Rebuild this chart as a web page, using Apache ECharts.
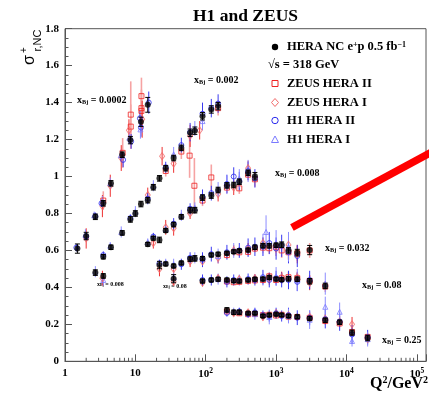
<!DOCTYPE html>
<html><head><meta charset="utf-8">
<script src="https://cdn.jsdelivr.net/npm/echarts@6/dist/echarts.min.js"></script>
<style>html,body{margin:0;padding:0;background:#fff}#c{width:429px;height:396px}</style>
</head><body><div id="c"></div>
<script>
// ---- HERA combined (black) : [Q2, sigma, err] ----
const heraA = [[1.5,0.61,0.025],[2,0.678,0.02],[2.7,0.782,0.015],[3.5,0.855,0.015],[4.5,0.963,0.015],[6.5,1.118,0.015],[8.5,1.197,0.02],[12,1.296,0.025],[15,1.388,0.04]];
const heraB = [[3.5,0.566,0.012],[4.5,0.617,0.012],[6.5,0.695,0.012],[8.5,0.768,0.015],[10,0.80,0.015],[12,0.851,0.015],[15,0.872,0.015],[18,0.942,0.015],[22,0.99,0.015],[27,1.045,0.015],[35,1.10,0.015],[45,1.155,0.015],[60,1.237,0.02],[70,1.248,0.02],[90,1.326,0.02],[120,1.363,0.02],[150,1.381,0.02]];
const heraC = [[15,0.633,0.01],[18,0.666,0.01],[22,0.657,0.015],[27,0.708,0.01],[35,0.74,0.012],[45,0.782,0.012],[60,0.818,0.015],[70,0.818,0.015],[90,0.886,0.015],[120,0.897,0.015],[150,0.927,0.015],[200,0.952,0.015],[250,0.954,0.015],[300,0.972,0.015],[400,1.02,0.015],[500,1.002,0.02]];
const heraD = [[2.7,0.48,0.015],[3.5,0.462,0.012],[22,0.521,0.02],[27,0.527,0.01],[35,0.516,0.01],[45,0.532,0.01],[60,0.553,0.012],[70,0.557,0.015],[90,0.557,0.01],[120,0.575,0.01],[150,0.58,0.01],[200,0.585,0.01],[250,0.593,0.01],[300,0.598,0.01],[400,0.602,0.01],[500,0.617,0.012],[650,0.626,0.012],[800,0.625,0.012],[1000,0.628,0.012],[1200,0.631,0.015],[1500,0.60,0.015],[2000,0.588,0.018],[3000,0.602,0.025]];
const heraE = [[35,0.447,0.022],[90,0.434,0.01],[120,0.44,0.01],[150,0.444,0.01],[200,0.44,0.01],[250,0.436,0.01],[300,0.434,0.01],[400,0.44,0.01],[500,0.444,0.01],[650,0.445,0.01],[800,0.453,0.01],[1000,0.445,0.01],[1200,0.442,0.01],[1500,0.447,0.012],[2000,0.444,0.012],[3000,0.433,0.015],[5000,0.408,0.015]];
const heraF = [[200,0.278,0.012],[250,0.265,0.012],[300,0.265,0.012],[400,0.26,0.008],[500,0.26,0.008],[650,0.245,0.008],[800,0.25,0.008],[1000,0.254,0.008],[1200,0.25,0.008],[1500,0.245,0.008],[2000,0.241,0.01],[3000,0.232,0.01],[5000,0.222,0.012],[8000,0.211,0.012],[12000,0.155,0.014],[20000,0.126,0.015]];

// ---- ZEUS HERA II (red squares) ----
const zeus2 = [[8.6,1.335,0.18],[8.6,1.27,0.12],[12.2,1.435,0.1],[12.2,1.37,0.1],[12.2,1.355,0.1],[6.6,1.128,0.08],[3.5,0.87,0.05],
 [27,1.03,0.03],[45,1.135,0.04],[59,1.113,0.12],[69,0.95,0.15],[120,0.995,0.07],[150,1.37,0.04],
 [90,0.87,0.03],[200,0.94,0.03],[300,0.936,0.03],[400,1.01,0.03],[500,0.985,0.04],
 [200,0.575,0.02],[300,0.59,0.02],[400,0.592,0.02],[500,0.61,0.02],[650,0.615,0.03],[800,0.612,0.03],[1000,0.62,0.03],[1200,0.60,0.04],[1500,0.59,0.04],[2000,0.585,0.04],[3000,0.60,0.04],
 [200,0.432,0.015],[250,0.428,0.015],[300,0.43,0.015],[400,0.435,0.015],[500,0.438,0.02],[650,0.44,0.02],[800,0.46,0.02],[1000,0.44,0.02],[1200,0.45,0.03],[1500,0.455,0.03],[2000,0.45,0.03],[3000,0.435,0.03],[5000,0.405,0.03],
 [200,0.27,0.01],[300,0.26,0.01],[400,0.255,0.01],[500,0.256,0.01],[650,0.25,0.01],[800,0.252,0.015],[1000,0.248,0.015],[1200,0.252,0.015],[1500,0.242,0.02],[2000,0.24,0.02],[3000,0.235,0.02],[5000,0.218,0.02],[8000,0.205,0.02],[12000,0.158,0.02],[20000,0.132,0.02]];
// ---- ZEUS HERA I (red diamonds) ----
const zeus1 = [[2.0,0.665,0.055],[3.4,0.84,0.06],[4.4,0.95,0.06],[6.3,1.10,0.07],[8.1,1.25,0.06],[12.5,1.31,0.1],
 [15,0.90,0.04],[24,1.11,0.05],[35,1.07,0.05],[60,1.22,0.06],[82,1.25,0.05],
 [18,0.64,0.03],[27,0.725,0.04],[35,0.72,0.04],[60,0.80,0.03],[150,0.905,0.04],[250,0.94,0.04],[400,1.045,0.04],
 [3.4,0.45,0.04],[22,0.50,0.04],[35,0.50,0.03],[60,0.54,0.03],[90,0.54,0.03],[150,0.56,0.03],[250,0.60,0.03],[400,0.61,0.03],[650,0.64,0.03],[1000,0.61,0.04],[1500,0.63,0.04],[2000,0.58,0.05],
 [35,0.43,0.02],[90,0.425,0.02],[150,0.45,0.02],[300,0.445,0.02],[500,0.45,0.02],[800,0.445,0.03],[1200,0.455,0.03],[2000,0.455,0.03],[3000,0.425,0.04],
 [250,0.26,0.015],[400,0.265,0.015],[650,0.24,0.02],[1000,0.26,0.02],[1500,0.25,0.02],[3000,0.24,0.025],[5000,0.23,0.025],[8000,0.215,0.03],[12000,0.20,0.04],[20000,0.12,0.02]];
// ---- H1 HERA II (blue circles) ----
const h1b = [[1.45,0.615,0.02],[2.0,0.675,0.02],[2.7,0.785,0.02],[3.3,0.855,0.02],[6.7,1.09,0.04],[8.7,1.19,0.04],[11.6,1.315,0.04],[12,1.265,0.05],[15.5,1.40,0.06],
 [3.5,0.575,0.02],[8.5,0.775,0.02],[15,0.88,0.03],[27,1.05,0.03],[45,1.17,0.04],[60,1.24,0.05],[90,1.34,0.06],[120,1.37,0.05],[150,1.395,0.05],
 [18,0.675,0.02],[35,0.745,0.03],[60,0.825,0.03],[90,0.89,0.04],[120,0.91,0.04],[200,0.96,0.05],[250,1.0,0.05],[300,0.975,0.05],[400,1.03,0.05],[500,0.99,0.05],
 [22,0.53,0.02],[45,0.525,0.03],[60,0.56,0.03],[90,0.55,0.04],[120,0.58,0.04],[200,0.59,0.04],[300,0.60,0.04],[400,0.615,0.05],[500,0.62,0.05],[650,0.62,0.05],[800,0.64,0.06],[1000,0.61,0.06],[1200,0.625,0.06],[1500,0.59,0.06],[2000,0.57,0.06],
 [90,0.44,0.03],[120,0.44,0.03],[200,0.43,0.03],[250,0.44,0.03],[400,0.445,0.03],[500,0.44,0.03],[650,0.455,0.04],[800,0.44,0.04],[1000,0.45,0.04],[1200,0.44,0.04],[1500,0.44,0.05],[2000,0.43,0.05],[3000,0.44,0.05],
 [200,0.262,0.02],[300,0.27,0.02],[400,0.255,0.02],[500,0.265,0.025],[650,0.25,0.025],[800,0.245,0.03],[1000,0.26,0.03],[1200,0.245,0.03],[1500,0.25,0.04],[2000,0.236,0.04],[3000,0.235,0.04],[5000,0.228,0.05],[8000,0.215,0.05],[12000,0.145,0.05],[20000,0.13,0.04]];
// ---- H1 HERA I (blue triangles) ----
const h1a = [[1.95,0.685,0.03],[2.6,0.79,0.02],[3.4,0.865,0.03],[4.4,0.965,0.03],[6.2,1.115,0.03],[8.2,1.21,0.03],[11.8,1.255,0.05],
 [4.4,0.625,0.02],[6.3,0.70,0.03],[10,0.81,0.03],[18,0.95,0.03],[35,1.12,0.04],[70,1.26,0.04],[90,1.30,0.05],
 [15,0.645,0.02],[27,0.715,0.02],[45,0.79,0.03],[70,0.83,0.03],[150,0.93,0.04],[200,0.955,0.05],[300,0.99,0.05],[400,1.03,0.06],
 [3.5,0.44,0.03],[2.7,0.485,0.03],[27,0.535,0.02],[35,0.525,0.03],[70,0.56,0.03],[150,0.57,0.04],[250,0.60,0.04],[650,0.63,0.06],[720,0.70,0.09],[1000,0.64,0.07],[1500,0.62,0.08],
 [35,0.455,0.03],[150,0.445,0.03],[300,0.44,0.03],[650,0.45,0.04],[1000,0.46,0.05],[2000,0.44,0.06],[5000,0.42,0.06],
 [250,0.27,0.02],[500,0.255,0.03],[800,0.24,0.04],[1500,0.245,0.04],[3000,0.225,0.05],[5000,0.295,0.055],[8000,0.268,0.05],[12000,0.11,0.03],[20000,0.12,0.04]];

// annotation stroke (data coords)
const redStroke = [[1680,0.724],[176000,1.139]];
// tick helpers
const yTicks = [0,0.2,0.4,0.6,0.8,1,1.2,1.4,1.6,1.8];
const decades = [1,10,100,1000,10000];
const mantissas = [2,3,4,5,6,7,8,9];
const minorQ = [];
decades.forEach(d => mantissas.forEach(m => minorQ.push(d*m)));

const SERIF = 'Liberation Serif';
const chart = echarts.init(document.getElementById('c'));

function errBars(data, color, lw, cap, z) {
  return {
    type: 'custom', data, z, silent: true, clip: false, encode: {x: 0, y: 1},
    renderItem(params, api) {
      const q = api.value(0), v = api.value(1), e = api.value(2);
      const t = api.coord([q, v + e]), b = api.coord([q, v - e]);
      const st = {stroke: color, lineWidth: lw};
      const ch = [{type: 'line', shape: {x1: t[0], y1: t[1], x2: b[0], y2: b[1]}, style: st}];
      if (cap) {
        ch.push({type: 'line', shape: {x1: t[0]-cap, y1: t[1], x2: t[0]+cap, y2: t[1]}, style: st});
        ch.push({type: 'line', shape: {x1: b[0]-cap, y1: b[1], x2: b[0]+cap, y2: b[1]}, style: st});
      }
      return {type: 'group', children: ch};
    }
  };
}
function openMarks(data, symbol, size, color, z) {
  return {type: 'scatter', data: data.map(d => [d[0], d[1]]), symbol, symbolSize: size, z, silent: true,
    itemStyle: {color: 'rgba(255,255,255,0)', borderColor: color, borderWidth: 1}};
}
const hera = [heraA, heraB, heraC, heraD, heraE, heraF];
const series = [];
series.push(errBars(zeus2, '#f6a3a3', 1.6, 0, 2));
series.push(errBars(zeus1, '#ee3030', 1, 0, 2));
series.push(errBars(h1b, '#3a3af0', 1, 0, 2));
series.push(errBars(h1a, '#8c8cff', 1, 0, 2));
series.push(openMarks(zeus2, 'rect', 5, '#ee2222', 3));
series.push(openMarks(zeus1, 'diamond', [5, 7], '#f26a6a', 3));
series.push(openMarks(h1b, 'circle', 5, '#2a2aee', 3));
series.push(openMarks(h1a, 'triangle', 5, '#7a7aff', 3));
hera.forEach(arr => {
  series.push(errBars(arr, '#000', 1, 2.5, 4));
  series.push({type: 'scatter', data: arr.map(d => [d[0], d[1]]), symbol: 'circle', symbolSize: 6, z: 5, silent: true,
    itemStyle: {color: '#000'}});
});
// minor x ticks
series.push({type: 'custom', data: minorQ.map(q => [q, 0]), z: 6, silent: true, clip: false, encode: {x: 0, y: 1},
  renderItem(params, api) {
    const p = api.coord([api.value(0), 0]);
    return {type: 'line', shape: {x1: p[0], y1: p[1], x2: p[0], y2: p[1]-3.5}, style: {stroke: '#555', lineWidth: 1}};
  }});
// red annotation stroke
series.push({type: 'line', data: redStroke, symbol: 'none', clip: false, z: 10, silent: true,
  lineStyle: {color: '#ff0000', width: 7.5, cap: 'butt'}});

const lbl = (x, y, val, fs) => ({type: 'text', x, y, silent: true, style: {
  text: 'x{b|Bj} = ' + val, fill: '#000', font: 'bold ' + fs + 'px ' + SERIF, verticalAlign: 'middle', align: 'left',
  rich: {b: {fontSize: fs * 0.62, fontWeight: 'bold', fontFamily: SERIF, verticalAlign: 'bottom', padding: [fs*0.35,0,0,0]}}}});
const legTxt = (x, y, t) => ({type: 'text', x, y, silent: true, style: {
  text: t, fill: '#000', font: 'bold 12.5px ' + SERIF, verticalAlign: 'middle', align: 'left',
  rich: {s: {fontSize: 8, fontWeight: 'bold', fontFamily: SERIF, verticalAlign: 'top', padding: [0,0,5,0]}}}});

const option = {
  animation: false,
  backgroundColor: '#fff',
  grid: {left: 65, right: 2, top: 28.7, bottom: 34.7, show: true, borderColor: '#555', borderWidth: 1},
  xAxis: {
    type: 'log', logBase: 10, min: 1, max: 135000,
    axisLine: {lineStyle: {color: '#555'}},
    axisTick: {inside: true, length: 7, lineStyle: {color: '#555'}},
    splitLine: {show: false},
    axisLabel: {
      color: '#000', fontFamily: SERIF, fontWeight: 'bold', fontSize: 11, margin: 6,
      formatter: v => {
        const e = Math.log10(v);
        if (Math.abs(e - Math.round(e)) > 1e-6) return '';
        const n = Math.round(e);
        if (n === 0) return '1';
        if (n === 1) return '10';
        return '10{s|' + n + '}';
      },
      rich: {s: {fontSize: 7.5, fontWeight: 'bold', fontFamily: SERIF, verticalAlign: 'top', padding: [0,0,6,0]}}
    }
  },
  yAxis: {
    type: 'value', min: 0, max: 1.8, interval: 0.2,
    axisLine: {show: true, lineStyle: {color: '#555'}},
    axisTick: {inside: true, length: 7, lineStyle: {color: '#555'}},
    minorTick: {show: true, splitNumber: 4, length: 3.5, lineStyle: {color: '#555'}},
    splitLine: {show: false},
    axisLabel: {color: '#000', fontFamily: SERIF, fontWeight: 'bold', fontSize: 11, margin: 6,
      formatter: v => (v === 0 ? '0' : v === 1 ? '1' : v.toFixed(1))}
  },
  series,
  graphic: [
    {type: 'text', x: 193, y: 16, silent: true, style: {text: 'H1 and ZEUS', fill: '#000', font: 'bold 17.5px ' + SERIF, verticalAlign: 'middle'}},
    // y axis title
    {type: 'text', x: 30, y: 60, rotation: Math.PI/2, silent: true, style: {text: 'σ', fill: '#000', font: '16px Liberation Sans', align: 'center', verticalAlign: 'middle'}},
    {type: 'text', x: 24.5, y: 50, rotation: Math.PI/2, silent: true, style: {text: '+', fill: '#000', font: '10px Liberation Sans', align: 'center', verticalAlign: 'middle'}},
    {type: 'text', x: 37.5, y: 40.5, rotation: Math.PI/2, silent: true, style: {text: 'r,NC', fill: '#000', font: '11px Liberation Sans', align: 'center', verticalAlign: 'middle'}},
    // x axis title
    {type: 'text', x: 428, y: 384, silent: true, style: {text: 'Q{s|2}/GeV{s|2}', fill: '#000', font: 'bold 16px ' + SERIF, align: 'right', verticalAlign: 'middle',
      rich: {s: {fontSize: 10, fontWeight: 'bold', fontFamily: SERIF, verticalAlign: 'top', padding: [0,0,7,0]}}}},
    // legend
    {type: 'circle', silent: true, shape: {cx: 275, cy: 47, r: 3.2}, style: {fill: '#000'}},
    legTxt(287, 47, 'HERA NC e{s|+}p 0.5 fb{s|−1}'),
    legTxt(268, 65, '√s = 318 GeV'),
    {type: 'rect', silent: true, shape: {x: 272, y: 80.5, width: 6, height: 6}, style: {fill: 'none', stroke: '#ee2222', lineWidth: 1}},
    legTxt(287, 83.5, 'ZEUS HERA II'),
    {type: 'polygon', silent: true, shape: {points: [[275, 98.5], [278.5, 102.5], [275, 106.5], [271.5, 102.5]]}, style: {fill: 'none', stroke: '#f26a6a', lineWidth: 1}},
    legTxt(287, 102.5, 'ZEUS HERA I'),
    {type: 'circle', silent: true, shape: {cx: 275, cy: 120.5, r: 3.2}, style: {fill: 'none', stroke: '#2a2aee', lineWidth: 1}},
    legTxt(287, 120.5, 'H1 HERA II'),
    {type: 'polygon', silent: true, shape: {points: [[275, 136], [278.5, 142.5], [271.5, 142.5]]}, style: {fill: 'none', stroke: '#7a7aff', lineWidth: 1}},
    legTxt(287, 139.5, 'H1 HERA I'),
    // bin labels
    lbl(77, 100, '0.0002', 10),
    lbl(194, 80, '0.002', 10),
    lbl(275, 173, '0.008', 10),
    lbl(325, 248, '0.032', 10),
    lbl(362, 285, '0.08', 10),
    lbl(382, 340, '0.25', 10),
    lbl(97, 284, '0.008', 6),
    lbl(163, 286, '0.08', 6)
  ]
};
chart.setOption(option);
</script>
</body></html>
